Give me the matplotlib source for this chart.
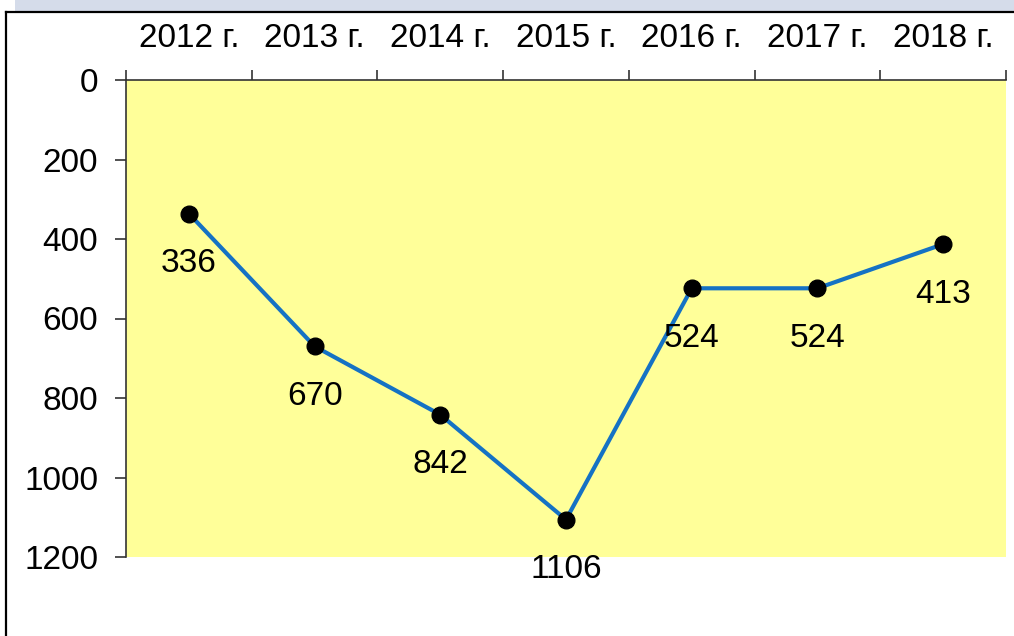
import matplotlib
matplotlib.use("Agg")
import matplotlib.pyplot as plt
from matplotlib.lines import Line2D
from matplotlib.patches import Rectangle

categories = ["2012 г.", "2013 г.", "2014 г.", "2015 г.", "2016 г.", "2017 г.", "2018 г."]
values = [336, 670, 842, 1106, 524, 524, 413]
y_ticks = [0, 200, 400, 600, 800, 1000, 1200]

plt.rcParams['font.family'] = ['Liberation Sans', 'DejaVu Sans']

W, H = 1014, 636
fig = plt.figure(figsize=(W / 100, H / 100), dpi=100)
fig.patch.set_facecolor("white")

# top band and frame lines
fig.patches.append(Rectangle((15 / W, 1 - 11 / H), 1 - 15 / W, 11 / H,
                             transform=fig.transFigure, facecolor="#d5dcea",
                             edgecolor="none", zorder=0))
fig.lines.append(Line2D([6 / W, 1], [1 - 12 / H, 1 - 12 / H], transform=fig.transFigure,
                        color="black", lw=1.6))
fig.lines.append(Line2D([6 / W, 6 / W], [0, 1 - 12 / H], transform=fig.transFigure,
                        color="black", lw=1.6))

left, right, top, bottom = 126 / W, 1006 / W, 1 - 80 / H, 1 - 557 / H
ax = fig.add_axes([left, bottom, right - left, top - bottom])
ax.set_facecolor("#ffff99")

x = list(range(len(categories)))
ax.plot(x, values, color="#1572c4", lw=3, marker="o", markersize=12,
        markerfacecolor="black", markeredgecolor="black", zorder=3, clip_on=False)
for xi, v in zip(x, values):
    ax.annotate(str(v), (xi, v), xytext=(0, -36), textcoords="offset points",
                ha="center", va="center", fontsize=24, color="black",
                annotation_clip=False)

ax.set_xlim(-0.5, len(categories) - 0.5)
ax.set_ylim(1200, 0)
ax.set_yticks(y_ticks)
ax.set_yticklabels([str(t) for t in y_ticks])

ax.xaxis.tick_top()
ax.set_xticks(x)
ax.set_xticklabels(categories)
ax.set_xticks([i - 0.5 for i in range(len(categories) + 1)], minor=True)
ax.tick_params(axis="x", which="major", length=0, pad=19, labelsize=24)
ax.tick_params(axis="x", which="minor", length=7.5, width=1.2, direction="out", color="#333333")
ax.tick_params(axis="y", which="major", length=8, width=1.2, direction="out", pad=12,
               labelsize=24, color="#333333")

for s in ["right", "bottom"]:
    ax.spines[s].set_visible(False)
for s in ["left", "top"]:
    ax.spines[s].set_color("#333333")
    ax.spines[s].set_linewidth(1.2)

fig.savefig("out.png", dpi=100)
